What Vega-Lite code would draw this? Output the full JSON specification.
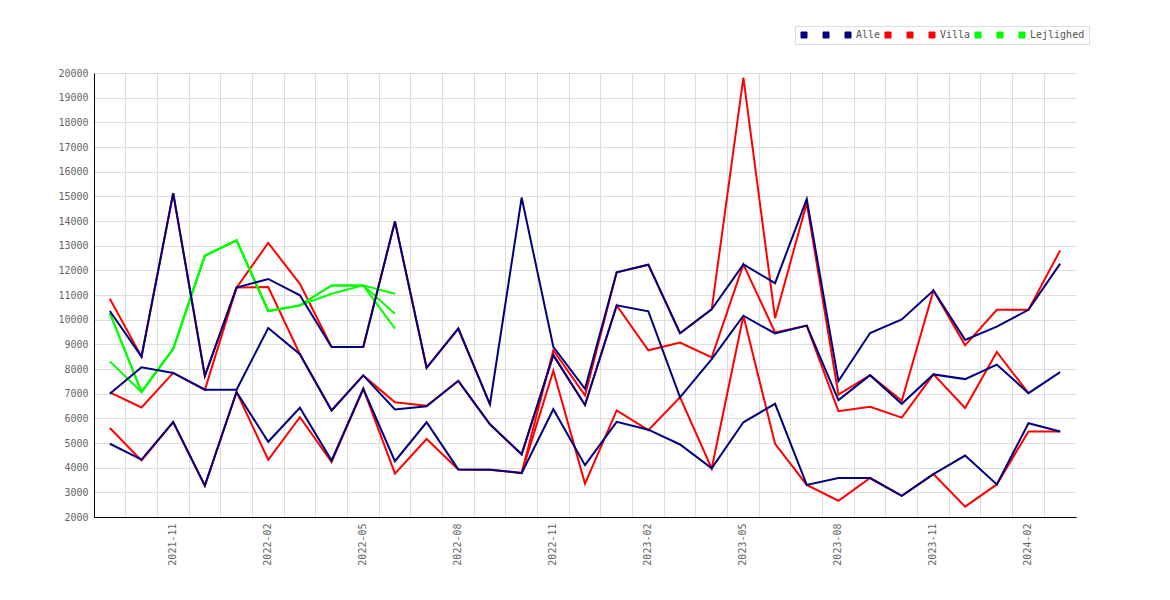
{
"$schema": "https://vega.github.io/schema/vega-lite/v6.json",
"width": 982, "height": 444,
"autosize": {"type": "none"},
"padding": {"left": 94, "top": 73, "right": 94, "bottom": 83},
"background": "white",
"config": {
 "view": {"stroke": null},
 "axis": {"labelFont": "DejaVu Sans Mono", "labelFontSize": 10, "labelColor": "#666", "gridColor": "#dddddd", "gridWidth": 1, "domainColor": "#000000", "domainWidth": 1, "ticks": false, "title": null},
 "legend": {"labelFont": "DejaVu Sans Mono", "labelFontSize": 10, "labelColor": "#555"}
},
"data": {"values": [
{"t":"A","s":"A1","g":"AT","m":"2021-09","v":10350},{"t":"A","s":"A1","g":"AT","m":"2021-10","v":8500},{"t":"A","s":"A1","g":"AT","m":"2021-11","v":15130},{"t":"A","s":"A1","g":"AT","m":"2021-12","v":7720},{"t":"A","s":"A1","g":"AT","m":"2022-01","v":11300},{"t":"A","s":"A1","g":"AT","m":"2022-02","v":11650},{"t":"A","s":"A1","g":"AT","m":"2022-03","v":10990},{"t":"A","s":"A1","g":"AT","m":"2022-04","v":8890},{"t":"A","s":"A1","g":"AT","m":"2022-05","v":8890},{"t":"A","s":"A1","g":"AT","m":"2022-06","v":13980},{"t":"A","s":"A1","g":"AT","m":"2022-07","v":8050},{"t":"A","s":"A1","g":"AT","m":"2022-08","v":9640},{"t":"A","s":"A1","g":"AT","m":"2022-09","v":6570},{"t":"A","s":"A1","g":"AT","m":"2022-10","v":14950},{"t":"A","s":"A1","g":"AT","m":"2022-11","v":8900},{"t":"A","s":"A1","g":"AT","m":"2022-12","v":7200},{"t":"A","s":"A1","g":"AT","m":"2023-01","v":11920},{"t":"A","s":"A1","g":"AT","m":"2023-02","v":12230},{"t":"A","s":"A1","g":"AT","m":"2023-03","v":9450},{"t":"A","s":"A1","g":"AT","m":"2023-04","v":10420},{"t":"A","s":"A1","g":"AT","m":"2023-05","v":12240},{"t":"A","s":"A1","g":"AT","m":"2023-06","v":11480},{"t":"A","s":"A1","g":"AT","m":"2023-07","v":14890},{"t":"A","s":"A1","g":"AT","m":"2023-08","v":7510},{"t":"A","s":"A1","g":"AT","m":"2023-09","v":9460},{"t":"A","s":"A1","g":"AT","m":"2023-10","v":10010},{"t":"A","s":"A1","g":"AT","m":"2023-11","v":11180},{"t":"A","s":"A1","g":"AT","m":"2023-12","v":9180},{"t":"A","s":"A1","g":"AT","m":"2024-01","v":9720},{"t":"A","s":"A1","g":"AT","m":"2024-02","v":10400},{"t":"A","s":"A1","g":"AT","m":"2024-03","v":12270},
{"t":"A","s":"A2","g":"AM","m":"2021-09","v":7000},{"t":"A","s":"A2","g":"AM","m":"2021-10","v":8070},{"t":"A","s":"A2","g":"AM","m":"2021-11","v":7840},{"t":"A","s":"A2","g":"AM","m":"2021-12","v":7160},{"t":"A","s":"A2","g":"AM","m":"2022-01","v":7160},{"t":"A","s":"A2","g":"AM","m":"2022-02","v":9660},{"t":"A","s":"A2","g":"AM","m":"2022-03","v":8600},{"t":"A","s":"A2","g":"AM","m":"2022-04","v":6320},{"t":"A","s":"A2","g":"AM","m":"2022-05","v":7740},{"t":"A","s":"A2","g":"AM","m":"2022-06","v":6360},{"t":"A","s":"A2","g":"AM","m":"2022-07","v":6490},{"t":"A","s":"A2","g":"AM","m":"2022-08","v":7520},{"t":"A","s":"A2","g":"AM","m":"2022-09","v":5760},{"t":"A","s":"A2","g":"AM","m":"2022-10","v":4540},{"t":"A","s":"A2","g":"AM","m":"2022-11","v":8560},{"t":"A","s":"A2","g":"AM","m":"2022-12","v":6540},{"t":"A","s":"A2","g":"AM","m":"2023-01","v":10580},{"t":"A","s":"A2","g":"AM","m":"2023-02","v":10340},{"t":"A","s":"A2","g":"AM","m":"2023-03","v":6850},{"t":"A","s":"A2","g":"AM","m":"2023-04","v":8400},{"t":"A","s":"A2","g":"AM","m":"2023-05","v":10160},{"t":"A","s":"A2","g":"AM","m":"2023-06","v":9440},{"t":"A","s":"A2","g":"AM","m":"2023-07","v":9760},{"t":"A","s":"A2","g":"AM","m":"2023-08","v":6740},{"t":"A","s":"A2","g":"AM","m":"2023-09","v":7750},{"t":"A","s":"A2","g":"AM","m":"2023-10","v":6590},{"t":"A","s":"A2","g":"AM","m":"2023-11","v":7780},{"t":"A","s":"A2","g":"AM","m":"2023-12","v":7590},{"t":"A","s":"A2","g":"AM","m":"2024-01","v":8180},{"t":"A","s":"A2","g":"AM","m":"2024-02","v":7020},{"t":"A","s":"A2","g":"AM","m":"2024-03","v":7870},
{"t":"A","s":"Alle","g":"AL","m":"2021-09","v":4970},{"t":"A","s":"Alle","g":"AL","m":"2021-10","v":4330},{"t":"A","s":"Alle","g":"AL","m":"2021-11","v":5850},{"t":"A","s":"Alle","g":"AL","m":"2021-12","v":3270},{"t":"A","s":"Alle","g":"AL","m":"2022-01","v":7070},{"t":"A","s":"Alle","g":"AL","m":"2022-02","v":5050},{"t":"A","s":"Alle","g":"AL","m":"2022-03","v":6430},{"t":"A","s":"Alle","g":"AL","m":"2022-04","v":4290},{"t":"A","s":"Alle","g":"AL","m":"2022-05","v":7200},{"t":"A","s":"Alle","g":"AL","m":"2022-06","v":4260},{"t":"A","s":"Alle","g":"AL","m":"2022-07","v":5840},{"t":"A","s":"Alle","g":"AL","m":"2022-08","v":3930},{"t":"A","s":"Alle","g":"AL","m":"2022-09","v":3920},{"t":"A","s":"Alle","g":"AL","m":"2022-10","v":3780},{"t":"A","s":"Alle","g":"AL","m":"2022-11","v":6370},{"t":"A","s":"Alle","g":"AL","m":"2022-12","v":4100},{"t":"A","s":"Alle","g":"AL","m":"2023-01","v":5860},{"t":"A","s":"Alle","g":"AL","m":"2023-02","v":5540},{"t":"A","s":"Alle","g":"AL","m":"2023-03","v":4940},{"t":"A","s":"Alle","g":"AL","m":"2023-04","v":3970},{"t":"A","s":"Alle","g":"AL","m":"2023-05","v":5840},{"t":"A","s":"Alle","g":"AL","m":"2023-06","v":6590},{"t":"A","s":"Alle","g":"AL","m":"2023-07","v":3300},{"t":"A","s":"Alle","g":"AL","m":"2023-08","v":3580},{"t":"A","s":"Alle","g":"AL","m":"2023-09","v":3580},{"t":"A","s":"Alle","g":"AL","m":"2023-10","v":2860},{"t":"A","s":"Alle","g":"AL","m":"2023-11","v":3740},{"t":"A","s":"Alle","g":"AL","m":"2023-12","v":4490},{"t":"A","s":"Alle","g":"AL","m":"2024-01","v":3320},{"t":"A","s":"Alle","g":"AL","m":"2024-02","v":5800},{"t":"A","s":"Alle","g":"AL","m":"2024-03","v":5470},
{"t":"V","s":"V1","g":"VA1","m":"2021-09","v":10850},{"t":"V","s":"V1","g":"VA1","m":"2021-10","v":8500},{"t":"V","s":"V1","g":"VA1","m":"2021-11","v":15130},{"t":"V","s":"V1","g":"VA1","m":"2021-12","v":7720},{"t":"V","s":"V1","g":"VA1","m":"2022-01","v":11300},{"t":"V","s":"V1","g":"VA1","m":"2022-02","v":13110},{"t":"V","s":"V1","g":"VA1","m":"2022-03","v":11450},{"t":"V","s":"V1","g":"VA1","m":"2022-04","v":8890},{"t":"V","s":"V1","g":"VA1","m":"2022-05","v":8890},{"t":"V","s":"V1","g":"VA1","m":"2022-06","v":13980},{"t":"V","s":"V1","g":"VA1","m":"2022-07","v":8050},{"t":"V","s":"V1","g":"VA1","m":"2022-08","v":9640},{"t":"V","s":"V1","g":"VA1","m":"2022-09","v":6570},
{"t":"V","s":"V1","g":"VA2","m":"2022-10","v":3780},{"t":"V","s":"V1","g":"VA2","m":"2022-11","v":8760},{"t":"V","s":"V1","g":"VA2","m":"2022-12","v":6930},{"t":"V","s":"V1","g":"VA2","m":"2023-01","v":11920},{"t":"V","s":"V1","g":"VA2","m":"2023-02","v":12230},{"t":"V","s":"V1","g":"VA2","m":"2023-03","v":9450},{"t":"V","s":"V1","g":"VA2","m":"2023-04","v":10420},{"t":"V","s":"V1","g":"VA2","m":"2023-05","v":19810},{"t":"V","s":"V1","g":"VA2","m":"2023-06","v":10060},{"t":"V","s":"V1","g":"VA2","m":"2023-07","v":14730},{"t":"V","s":"V1","g":"VA2","m":"2023-08","v":6960},{"t":"V","s":"V1","g":"VA2","m":"2023-09","v":7750},{"t":"V","s":"V1","g":"VA2","m":"2023-10","v":6710},{"t":"V","s":"V1","g":"VA2","m":"2023-11","v":11180},{"t":"V","s":"V1","g":"VA2","m":"2023-12","v":8960},{"t":"V","s":"V1","g":"VA2","m":"2024-01","v":10400},{"t":"V","s":"V1","g":"VA2","m":"2024-02","v":10400},{"t":"V","s":"V1","g":"VA2","m":"2024-03","v":12810},
{"t":"V","s":"V2","g":"VB","m":"2021-09","v":7050},{"t":"V","s":"V2","g":"VB","m":"2021-10","v":6440},{"t":"V","s":"V2","g":"VB","m":"2021-11","v":7840},{"t":"V","s":"V2","g":"VB","m":"2021-12","v":7160},{"t":"V","s":"V2","g":"VB","m":"2022-01","v":11300},{"t":"V","s":"V2","g":"VB","m":"2022-02","v":11320},{"t":"V","s":"V2","g":"VB","m":"2022-03","v":8600},{"t":"V","s":"V2","g":"VB","m":"2022-04","v":6320},{"t":"V","s":"V2","g":"VB","m":"2022-05","v":7740},{"t":"V","s":"V2","g":"VB","m":"2022-06","v":6650},{"t":"V","s":"V2","g":"VB","m":"2022-07","v":6510},{"t":"V","s":"V2","g":"VB","m":"2022-08","v":7520},{"t":"V","s":"V2","g":"VB","m":"2022-09","v":5760},{"t":"V","s":"V2","g":"VB","m":"2022-10","v":4540},{"t":"V","s":"V2","g":"VB","m":"2022-11","v":8560},{"t":"V","s":"V2","g":"VB","m":"2022-12","v":6540},{"t":"V","s":"V2","g":"VB","m":"2023-01","v":10580},{"t":"V","s":"V2","g":"VB","m":"2023-02","v":8760},{"t":"V","s":"V2","g":"VB","m":"2023-03","v":9070},{"t":"V","s":"V2","g":"VB","m":"2023-04","v":8470},{"t":"V","s":"V2","g":"VB","m":"2023-05","v":12240},{"t":"V","s":"V2","g":"VB","m":"2023-06","v":9480},{"t":"V","s":"V2","g":"VB","m":"2023-07","v":9760},{"t":"V","s":"V2","g":"VB","m":"2023-08","v":6290},{"t":"V","s":"V2","g":"VB","m":"2023-09","v":6470},{"t":"V","s":"V2","g":"VB","m":"2023-10","v":6030},{"t":"V","s":"V2","g":"VB","m":"2023-11","v":7780},{"t":"V","s":"V2","g":"VB","m":"2023-12","v":6420},{"t":"V","s":"V2","g":"VB","m":"2024-01","v":8690},{"t":"V","s":"V2","g":"VB","m":"2024-02","v":7020},
{"t":"V","s":"Villa","g":"VC","m":"2021-09","v":5610},{"t":"V","s":"Villa","g":"VC","m":"2021-10","v":4290},{"t":"V","s":"Villa","g":"VC","m":"2021-11","v":5850},{"t":"V","s":"Villa","g":"VC","m":"2021-12","v":3270},{"t":"V","s":"Villa","g":"VC","m":"2022-01","v":7070},{"t":"V","s":"Villa","g":"VC","m":"2022-02","v":4320},{"t":"V","s":"Villa","g":"VC","m":"2022-03","v":6050},{"t":"V","s":"Villa","g":"VC","m":"2022-04","v":4230},{"t":"V","s":"Villa","g":"VC","m":"2022-05","v":7200},{"t":"V","s":"Villa","g":"VC","m":"2022-06","v":3760},{"t":"V","s":"Villa","g":"VC","m":"2022-07","v":5160},{"t":"V","s":"Villa","g":"VC","m":"2022-08","v":3930},{"t":"V","s":"Villa","g":"VC","m":"2022-09","v":3920},{"t":"V","s":"Villa","g":"VC","m":"2022-10","v":3780},{"t":"V","s":"Villa","g":"VC","m":"2022-11","v":7930},{"t":"V","s":"Villa","g":"VC","m":"2022-12","v":3350},{"t":"V","s":"Villa","g":"VC","m":"2023-01","v":6320},{"t":"V","s":"Villa","g":"VC","m":"2023-02","v":5520},{"t":"V","s":"Villa","g":"VC","m":"2023-03","v":6850},{"t":"V","s":"Villa","g":"VC","m":"2023-04","v":3970},{"t":"V","s":"Villa","g":"VC","m":"2023-05","v":10160},{"t":"V","s":"Villa","g":"VC","m":"2023-06","v":4970},{"t":"V","s":"Villa","g":"VC","m":"2023-07","v":3300},{"t":"V","s":"Villa","g":"VC","m":"2023-08","v":2660},{"t":"V","s":"Villa","g":"VC","m":"2023-09","v":3580},{"t":"V","s":"Villa","g":"VC","m":"2023-10","v":2860},{"t":"V","s":"Villa","g":"VC","m":"2023-11","v":3740},{"t":"V","s":"Villa","g":"VC","m":"2023-12","v":2420},{"t":"V","s":"Villa","g":"VC","m":"2024-01","v":3320},{"t":"V","s":"Villa","g":"VC","m":"2024-02","v":5470},{"t":"V","s":"Villa","g":"VC","m":"2024-03","v":5470},
{"t":"L","s":"L1","g":"L1","m":"2021-09","v":10270},{"t":"L","s":"L1","g":"L1","m":"2021-10","v":7070},{"t":"L","s":"L1","g":"L1","m":"2021-11","v":8820},{"t":"L","s":"L1","g":"L1","m":"2021-12","v":12590},{"t":"L","s":"L1","g":"L1","m":"2022-01","v":13220},{"t":"L","s":"L1","g":"L1","m":"2022-02","v":10350},{"t":"L","s":"L1","g":"L1","m":"2022-03","v":10580},{"t":"L","s":"L1","g":"L1","m":"2022-04","v":11390},{"t":"L","s":"L1","g":"L1","m":"2022-05","v":11390},{"t":"L","s":"L1","g":"L1","m":"2022-06","v":11050},
{"t":"L","s":"L2","g":"L2","m":"2021-09","v":8310},{"t":"L","s":"L2","g":"L2","m":"2021-10","v":7070},{"t":"L","s":"L2","g":"L2","m":"2021-11","v":8820},{"t":"L","s":"L2","g":"L2","m":"2021-12","v":12590},{"t":"L","s":"L2","g":"L2","m":"2022-01","v":13220},{"t":"L","s":"L2","g":"L2","m":"2022-02","v":10350},{"t":"L","s":"L2","g":"L2","m":"2022-03","v":10580},{"t":"L","s":"L2","g":"L2","m":"2022-04","v":11050},{"t":"L","s":"L2","g":"L2","m":"2022-05","v":11390},{"t":"L","s":"L2","g":"L2","m":"2022-06","v":9640},
{"t":"L","s":"Lejlighed","g":"L3","m":"2021-09","v":10270},{"t":"L","s":"Lejlighed","g":"L3","m":"2021-10","v":7070},{"t":"L","s":"Lejlighed","g":"L3","m":"2021-11","v":8820},{"t":"L","s":"Lejlighed","g":"L3","m":"2021-12","v":12590},{"t":"L","s":"Lejlighed","g":"L3","m":"2022-01","v":13220},{"t":"L","s":"Lejlighed","g":"L3","m":"2022-02","v":10350},{"t":"L","s":"Lejlighed","g":"L3","m":"2022-03","v":10580},{"t":"L","s":"Lejlighed","g":"L3","m":"2022-04","v":11390},{"t":"L","s":"Lejlighed","g":"L3","m":"2022-05","v":11390},{"t":"L","s":"Lejlighed","g":"L3","m":"2022-06","v":10240}
]},
"encoding": {
 "x": {"field": "m", "type": "ordinal",
  "scale": {"type": "band", "paddingInner": 0, "paddingOuter": 0, "domain": ["2021-09","2021-10","2021-11","2021-12","2022-01","2022-02","2022-03","2022-04","2022-05","2022-06","2022-07","2022-08","2022-09","2022-10","2022-11","2022-12","2023-01","2023-02","2023-03","2023-04","2023-05","2023-06","2023-07","2023-08","2023-09","2023-10","2023-11","2023-12","2024-01","2024-02","2024-03"]},
  "axis": {"grid": true, "bandPosition": 0, "labelAngle": 270, "labelPadding": 6, "labelOverlap": false,
   "labelExpr": "indexof(['2021-11','2022-02','2022-05','2022-08','2022-11','2023-02','2023-05','2023-08','2023-11','2024-02'], datum.value) >= 0 ? datum.value : ''"}},
 "y": {"field": "v", "type": "quantitative",
  "scale": {"domain": [2000, 20000], "nice": false, "zero": false},
  "axis": {"grid": true, "labelPadding": 6, "format": "d", "values": [2000,3000,4000,5000,6000,7000,8000,9000,10000,11000,12000,13000,14000,15000,16000,17000,18000,19000,20000]}},
 "color": {"field": "s", "type": "nominal",
  "scale": {"domain": ["A1","A2","Alle","V1","V2","Villa","L1","L2","Lejlighed"], "range": ["#000080","#000080","#000080","#ff0000","#ff0000","#ff0000","#00ff00","#00ff00","#00ff00"]},
  "legend": {"title": null, "orient": "none", "legendX": 701, "legendY": -47, "direction": "horizontal", "columns": 9,
   "symbolType": "square", "symbolSize": 36, "labelOffset": 3, "columnPadding": 2, "padding": 4, "strokeColor": "#dddddd",
   "labelExpr": "length(datum.label) == 2 ? 'x' : datum.label",
   "encode": {
    "symbols": {"update": {"fill": {"scale": "color", "field": "value"}, "stroke": {"value": "#555555"}, "strokeWidth": {"value": 1}, "opacity": {"value": 1}}},
    "labels": {"update": {"fillOpacity": [{"test": "length(datum.label) == 2", "value": 0}, {"value": 1}]}}}}},
 "detail": {"field": "g", "type": "nominal"}
},
"layer": [
 {"transform": [{"filter": "datum.t == 'V'"}], "mark": {"type": "line", "strokeWidth": 2}},
 {"transform": [{"filter": "datum.t == 'L'"}], "mark": {"type": "line", "strokeWidth": 2}},
 {"transform": [{"filter": "datum.t == 'A'"}], "mark": {"type": "line", "strokeWidth": 2}}
]
}
